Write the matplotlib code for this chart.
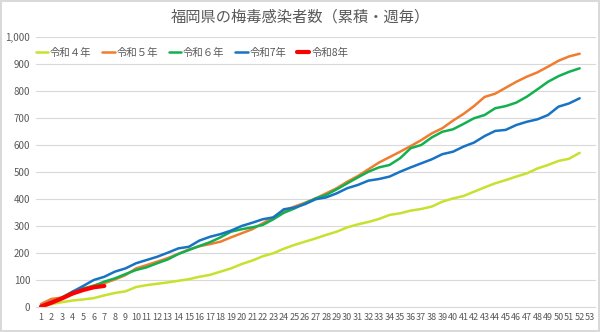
import matplotlib
matplotlib.use('Agg')
import matplotlib.pyplot as plt

plt.rcParams['font.family'] = ['Noto Sans CJK JP', 'DejaVu Sans']

weeks = list(range(1, 54))

r4 = [1, 11, 18, 24, 28, 33, 43, 52, 58, 74, 81, 86, 91, 97, 103, 112, 119, 131, 143, 159,
      172, 188, 199, 216, 230, 242, 254, 267, 279, 295, 306, 315, 326, 341, 347, 357, 363, 372,
      390, 402, 411, 427, 443, 458, 470, 483, 495, 513, 526, 541, 549, 571]
r5 = [11, 30, 35, 50, 65, 80, 88, 102, 118, 143, 155, 168, 181, 197, 213, 225, 233, 242, 258, 273,
      288, 310, 332, 357, 372, 386, 402, 421, 440, 464, 485, 510, 535, 555, 575, 596, 618, 643,
      662, 690, 715, 744, 778, 790, 812, 834, 853, 869, 890, 912, 928, 938]
r6 = [4, 16, 36, 57, 69, 78, 94, 106, 122, 137, 147, 162, 176, 196, 211, 226, 240, 258, 279, 288,
      295, 304, 325, 349, 365, 384, 402, 415, 436, 458, 480, 501, 517, 526, 551, 588, 600, 628,
      649, 658, 678, 699, 711, 736, 744, 757, 779, 806, 834, 855, 871, 884]
r7 = [4, 20, 32, 57, 78, 100, 112, 131, 143, 162, 174, 186, 201, 217, 223, 246, 260, 270, 283, 300,
      312, 325, 332, 362, 368, 381, 399, 406, 421, 440, 452, 468, 474, 483, 501, 517, 532, 547,
      566, 575, 594, 609, 633, 652, 656, 674, 686, 695, 711, 742, 754, 773]
r8 = [1, 16, 32, 50, 63, 73, 78]

labels = ['令和４年', '令和５年', '令和６年', '令和7年', '令和8年']
series = [r4, r5, r6, r7, r8]
colors = ['#C8E12E', '#F07C30', '#12B04E', '#1873C4', '#FF0000']
widths = [1.8, 1.8, 1.8, 1.8, 3.0]

fig = plt.figure(figsize=(6, 3.32), dpi=100)
fig.patch.set_edgecolor('#D9D9D9')
fig.patch.set_linewidth(1.5)
ax = fig.add_axes([0.0595, 0.0753, 0.933, 0.8133])

for vals, lab, c, lw in zip(series, labels, colors, widths):
    ax.plot(weeks[:len(vals)], vals, color=c, lw=lw, label=lab, solid_capstyle='round')

ax.set_xlim(0.5, 53.5)
ax.set_ylim(0, 1000)
ax.set_xticks(weeks)
ax.set_xticklabels([str(w) for w in weeks], fontsize=6.5, color='#595959')
ax.set_yticks(range(0, 1001, 100))
ax.set_yticklabels(['{:,}'.format(v) for v in range(0, 1001, 100)], fontsize=7, color='#595959')
ax.tick_params(length=0, pad=4)
ax.grid(axis='y', color='#D9D9D9', lw=0.8)
ax.set_axisbelow(True)
for s in ['top', 'right', 'left']:
    ax.spines[s].set_visible(False)
ax.spines['bottom'].set_color('#D9D9D9')

fig.suptitle('福岡県の梅毒感染者数（累積・週毎）', x=0.5, y=0.975, fontsize=11, color='#595959')

leg = ax.legend(loc='upper left', bbox_to_anchor=(-0.017, 0.995), ncol=5, frameon=False,
                fontsize=7.5, handlelength=1.2, handletextpad=0.2, columnspacing=1.0)
for t in leg.get_texts():
    t.set_color('#595959')

fig.savefig('out.png', dpi=100)
